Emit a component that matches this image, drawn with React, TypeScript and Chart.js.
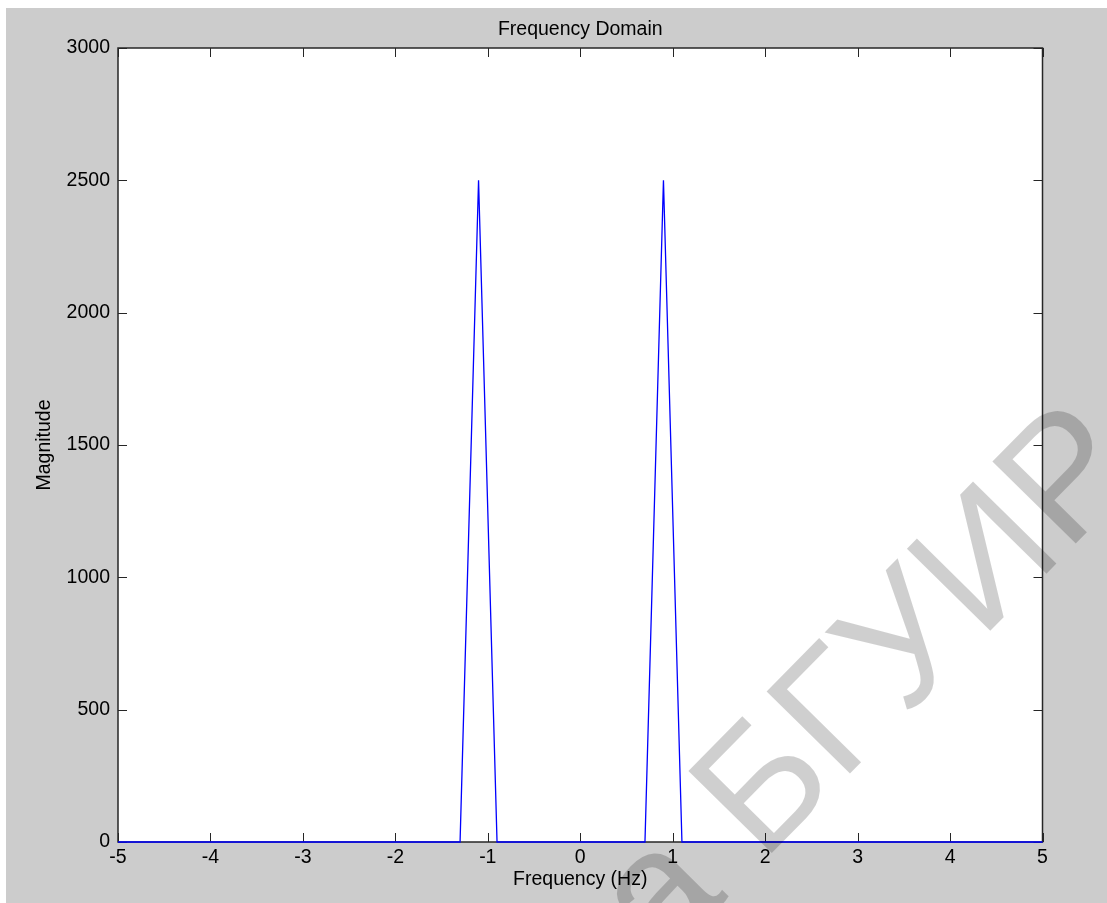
import React, { useEffect, useRef } from "react";
import { Chart, registerables } from "chart.js";

Chart.register(...registerables);

// Two-sided magnitude spectrum: frequency samples (Hz) and |X(f)|
const frequencies = [-5, -1.3, -1.1, -0.9, 0.7, 0.9, 1.1, 5];
const magnitudes = [0, 0, 2500, 0, 0, 2500, 0, 0];

// Axis tick values
const xTicks = [-5, -4, -3, -2, -1, 0, 1, 2, 3, 4, 5];
const yTicks = [0, 500, 1000, 1500, 2000, 2500, 3000];

const FONT = "'Liberation Sans', Arial, Helvetica, sans-serif";
const FONT_SIZE = 19.5;
const W = 1107;
const H = 903;
const FIG_LEFT = 6;
const FIG_TOP = 8;

// Gray figure background, white axes area
const backgroundPlugin = {
  id: "figureBackground",
  beforeDraw(chart: any) {
    const { ctx, chartArea } = chart;
    ctx.save();
    ctx.fillStyle = "#ffffff";
    ctx.fillRect(0, 0, chart.width, chart.height);
    ctx.fillStyle = "#cccccc";
    ctx.fillRect(FIG_LEFT, FIG_TOP, chart.width - FIG_LEFT, chart.height - FIG_TOP);
    ctx.fillStyle = "#ffffff";
    ctx.fillRect(chartArea.left, chartArea.top, chartArea.right - chartArea.left, chartArea.bottom - chartArea.top);
    ctx.restore();
  },
};

// Boxed axes with inward tick marks on all four sides
const boxPlugin = {
  id: "axesBox",
  beforeDatasetsDraw(chart: any) {
    const { ctx, chartArea, scales } = chart;
    const { left, right, top, bottom } = chartArea;
    const len = 9;
    ctx.save();
    ctx.strokeStyle = "#262626";
    ctx.lineWidth = 1;
    ctx.beginPath();
    for (const v of xTicks) {
      const px = Math.round(scales.x.getPixelForValue(v)) + 0.5;
      ctx.moveTo(px, bottom);
      ctx.lineTo(px, bottom - len);
      ctx.moveTo(px, top);
      ctx.lineTo(px, top + len);
    }
    for (const v of yTicks) {
      const py = Math.round(scales.y.getPixelForValue(v)) + 0.5;
      ctx.moveTo(left, py);
      ctx.lineTo(left + len, py);
      ctx.moveTo(right, py);
      ctx.lineTo(right - len, py);
    }
    ctx.stroke();
    ctx.lineWidth = 1.5;
    ctx.strokeRect(left, top, right - left, bottom - top);
    ctx.restore();
  },
};

// Diagonal library stamp over the whole figure
const stampPlugin = {
  id: "stamp",
  afterDraw(chart: any) {
    const { ctx } = chart;
    ctx.save();
    ctx.translate(762, 863);
    ctx.rotate((-45.5 * Math.PI) / 180);
    ctx.fillStyle = "rgba(0,0,0,0.19)";
    ctx.font = `170px ${FONT}`;
    ctx.textBaseline = "alphabetic";
    ctx.textAlign = "left";
    ctx.fillText("БГУИР", 0, 0);
    ctx.textAlign = "right";
    ctx.fillText("Библиотека ", 0, 0);
    ctx.restore();
  },
};

export default function App() {
  const canvasRef = useRef<HTMLCanvasElement | null>(null);

  useEffect(() => {
    document.body.style.margin = "0";
    document.body.style.overflow = "hidden";
    const canvas = canvasRef.current;
    if (!canvas) return;
    const points = frequencies.map((f, i) => ({ x: f, y: magnitudes[i] }));
    const chart = new Chart(canvas, {
      type: "line",
      data: {
        datasets: [
          {
            data: points,
            borderColor: "#0000ff",
            borderWidth: 1.3,
            pointRadius: 0,
            tension: 0,
            fill: false,
            clip: false as any,
          },
        ],
      },
      options: {
        animation: false,
        responsive: false,
        devicePixelRatio: 1,
        layout: { padding: { top: FIG_TOP, left: FIG_LEFT, right: 64.5, bottom: 0 } },
        plugins: {
          legend: { display: false },
          tooltip: { enabled: false },
          title: {
            display: true,
            text: "Frequency Domain",
            color: "#000",
            fullSize: false,
            font: { family: FONT, size: FONT_SIZE, weight: "normal" },
            padding: { top: 10, bottom: 6.6 },
          },
        },
        scales: {
          x: {
            type: "linear",
            min: -5,
            max: 5,
            afterBuildTicks: (scale: any) => {
              scale.ticks = xTicks.map((v) => ({ value: v }));
            },
            afterFit: (scale: any) => {
              scale.height = 61;
            },
            grid: { display: false, drawTicks: false },
            border: { display: false },
            ticks: {
              color: "#000",
              font: { family: FONT, size: FONT_SIZE },
              padding: 3.7,
              maxRotation: 0,
              autoSkip: false,
              callback: (v: any) => String(v),
            },
            title: {
              display: true,
              text: "Frequency (Hz)",
              color: "#000",
              font: { family: FONT, size: FONT_SIZE },
              padding: { top: 0, bottom: 11.5 },
            },
          },
          y: {
            type: "linear",
            min: 0,
            max: 3000,
            afterBuildTicks: (scale: any) => {
              scale.ticks = yTicks.map((v) => ({ value: v }));
            },
            afterFit: (scale: any) => {
              scale.width = 112;
            },
            grid: { display: false, drawTicks: false },
            border: { display: false },
            ticks: {
              color: "#000",
              font: { family: FONT, size: FONT_SIZE },
              padding: 8,
              autoSkip: false,
              callback: (v: any) => String(v),
            },
            title: {
              display: true,
              text: "Magnitude",
              color: "#000",
              font: { family: FONT, size: FONT_SIZE },
              padding: { top: 27.1, bottom: 0 },
            },
          },
        },
      },
      plugins: [backgroundPlugin, boxPlugin, stampPlugin],
    });
    return () => chart.destroy();
  }, []);

  return (
    <div style={{ width: W, height: H }}>
      <canvas ref={canvasRef} width={W} height={H} style={{ display: "block", width: W, height: H }} />
    </div>
  );
}
